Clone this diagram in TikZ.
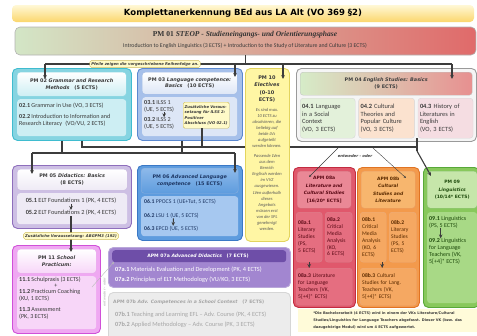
\documentclass[tikz,border=0pt]{standalone}
\usepackage{fontspec}
\setmainfont{Carlito}
\newfontfamily\headfont{DejaVu Sans}
\newfontfamily\steopfont{Liberation Serif}
\usetikzlibrary{positioning,arrows.meta}

% colours of the modules
\definecolor{linegray}{HTML}{3C3C3C}
\definecolor{txtgray}{HTML}{3A3A3A}
\definecolor{notefill}{HTML}{FFFAC8}
\definecolor{noteline}{HTML}{CDBB55}
\definecolor{titlelight}{HTML}{FFF8D6}
\definecolor{titleyel}{HTML}{FBD66C}
\definecolor{steopgreen}{HTML}{D3E6C6}
\definecolor{steopmid}{HTML}{EAD9C6}
\definecolor{steopred}{HTML}{E06A6A}
\definecolor{cyanline}{HTML}{3FBCCF}
\definecolor{cyanfill}{HTML}{86D4E1}
\definecolor{cyanlight}{HTML}{CDEEF3}
\definecolor{blueline}{HTML}{5A88D0}
\definecolor{bluefill}{HTML}{A6C0EA}
\definecolor{bluelight}{HTML}{DDE6F6}
\definecolor{yelline}{HTML}{E3D45E}
\definecolor{yelfill}{HTML}{FFF6A4}
\definecolor{grayline}{HTML}{9A9A9A}
\definecolor{basicgreen}{HTML}{E3F1DA}
\definecolor{basicorange}{HTML}{FBE2CF}
\definecolor{basicpink}{HTML}{F5DDE2}
\definecolor{headgreen}{HTML}{D6ECC8}
\definecolor{headred}{HTML}{E79090}
\definecolor{lilaline}{HTML}{8E6EBC}
\definecolor{lilafill}{HTML}{CDBFE4}
\definecolor{lilalight}{HTML}{EEEAF5}
\definecolor{advline}{HTML}{3A78C6}
\definecolor{advfill}{HTML}{5E9CDE}
\definecolor{advtop}{HTML}{8DB9EA}
\definecolor{advlight}{HTML}{A6C8F0}
\definecolor{advtxt}{HTML}{1E3764}
\definecolor{litline}{HTML}{C22C40}
\definecolor{litfill}{HTML}{E0586C}
\definecolor{litlight}{HTML}{EA8896}
\definecolor{litcell}{HTML}{E56E80}
\definecolor{littxt}{HTML}{5C0A16}
\definecolor{culline}{HTML}{E07424}
\definecolor{culfill}{HTML}{F39A4C}
\definecolor{cullight}{HTML}{F7B66E}
\definecolor{culcell}{HTML}{F5A862}
\definecolor{cultxt}{HTML}{5A2A00}
\definecolor{lingline}{HTML}{58A838}
\definecolor{lingfill}{HTML}{88C85C}
\definecolor{linglight}{HTML}{C6E6AA}
\definecolor{lingcell}{HTML}{A8D986}
\definecolor{lingtxt}{HTML}{1E4A0C}
\definecolor{pracline}{HTML}{D050D8}
\definecolor{pracfill}{HTML}{EFA8F2}
\definecolor{praclight}{HTML}{F7D6F8}
\definecolor{didline}{HTML}{8A6CC0}
\definecolor{didfill}{HTML}{A286D0}
\definecolor{diddark}{HTML}{6E4EA8}
\definecolor{schoolline}{HTML}{D6D6D6}
\definecolor{schoolfill}{HTML}{ECECEC}
\definecolor{schooltxt}{HTML}{A6A6A6}

\newcommand{\titlesize}{\fontsize{8.5}{10}\selectfont}
\newcommand{\headsize}{\fontsize{4.9}{6.6}\selectfont}
\newcommand{\bodysize}{\fontsize{6.1}{7}\selectfont}
\newcommand{\cellsize}{\fontsize{5.6}{6.9}\selectfont}
\newcommand{\notesize}{\fontsize{3.8}{5.4}\selectfont}

\begin{document}
\begin{tikzpicture}[x=1pt,y=-1pt,>={Stealth[length=4pt,width=3.6pt]},
    font=\bodysize,text=txtgray,
    frame/.style={draw=#1,line width=0.9pt,rounded corners=5pt,anchor=north west,inner sep=0pt},
    panel/.style={rounded corners=3pt,anchor=north west,inner sep=0pt},
    cell/.style={panel,align=left,inner xsep=2pt,font=\cellsize},
    head/.style={font=\headfont\bfseries\headsize,align=center,inner sep=0pt},
    txt/.style={anchor=north west,align=left,inner sep=0pt},
    hint/.style={draw=noteline,fill=notefill,rounded corners=1.5pt,inner sep=1.5pt,
      font=\headfont\bfseries\itshape\notesize,text=txtgray},
    wire/.style={draw=linegray,line width=1.1pt},
    fork/.style={draw=linegray,line width=0.4pt,-{Stealth[length=2.6pt,width=2.2pt]}}]
\useasboundingbox (0,0) rectangle (477,335);

% Define title and STEOP
\node[rounded corners=4pt,top color=titlelight,bottom color=titleyel,minimum width=462pt,
  minimum height=17pt,inner sep=0pt,text=black] (title) at (243,13.5)
  {\headfont\bfseries\titlesize Komplettanerkennung BEd aus LA Alt (VO 369 §2)};
\node[rounded corners=5pt,draw=gray!60,line width=0.6pt,left color=steopgreen,middle color=steopmid,
  right color=steopred,minimum width=461pt,minimum height=28pt] (pm01) at (245.5,41) {};
\node[inner sep=0pt,font=\steopfont\bfseries\fontsize{7.5}{9}\selectfont,text=black!80] (pm01title)
  at (245,34.5) {PM 01 \textit{STEOP - Studieneingangs- und Orientierungsphase}};
\node[inner sep=0pt,font=\fontsize{5.8}{7}\selectfont] (pm01sub) at (245,45.5)
  {Introduction to English Linguistics (3 ECTS) + Introduction to the Study of Literature and Culture (3 ECTS)};

% Define first row
\node[frame=cyanline,fill=cyanfill,minimum width=119pt,minimum height=72pt] (pm02) at (12,68) {};
\node[panel,top color=white,bottom color=cyanlight,draw=cyanline!60,minimum width=109pt,minimum height=24pt] (pm02head) at (17,72) {};
\node[panel,fill=cyanlight,minimum width=109pt,minimum height=37pt] (pm02body) at (17,99) {};
\node[head] (pm02label) at (pm02head) {PM 02 \textit{Grammar and Research}\\\textit{Methods}\quad(5 ECTS)};
\node[txt] (pm021) at (19,103) {\textbf{02.1} Grammar in Use (VO, 3 ECTS)};
\node[txt] (pm022) at (19,114) {\textbf{02.2} Introduction to Information and\\Research Literacy\enspace(VO/VU, 2 ECTS)};

\node[frame=blueline,fill=bluefill,minimum width=105pt,minimum height=72pt] (pm03) at (137,68) {};
\node[panel,top color=white,bottom color=bluelight,draw=blueline!60,minimum width=95pt,minimum height=22pt] (pm03head) at (142,72) {};
\node[panel,fill=bluelight,minimum width=95pt,minimum height=39pt] (pm03body) at (142,97) {};
\node[head] (pm03label) at (pm03head) {PM 03 \textit{Language competence:}\\\textit{Basics}\quad(10 ECTS)};
\node[txt] (pm031) at (144,100) {\textbf{03.1} ILSS 1\\(UE, 5 ECTS)};
\node[txt,below=5pt of pm031.south west,anchor=north west] (pm032) {\textbf{03.2} ILSS 2\\(UE, 5 ECTS)};
\node[hint,anchor=north west,align=left,minimum height=26pt] (hint3) at (183,102)
  {Zusätzliche Voraus-\\setzung für ILSS 2:\\Positiver\\Abschluss (VO 02.1)};
\draw[wire,line width=0.9pt,->] ([xshift=5pt]pm031.south) -- ([xshift=5pt]pm032.north);

\node[frame=yelline,fill=yelfill,minimum width=44pt,minimum height=173pt] (pm10) at (245,68) {};
\node[head,font=\headfont\bfseries\fontsize{5}{7.5}\selectfont] (pm10label) at (267,89)
  {PM 10\\\textit{Electives}\\(0-10\\ECTS)};
\node[anchor=north,align=center,inner sep=0pt,font=\itshape\fontsize{4.5}{6.1}\selectfont,text=black!65] (pm10rule) at (267,108)
  {Es sind max.\\10 ECTS zu\\absolvieren, die\\beliebig auf\\beide LVs\\aufgeteilt\\werden können.};
\node[below=6pt of pm10rule,align=center,inner sep=0pt,font=\itshape\fontsize{4.5}{6.1}\selectfont,text=black!65] (pm10list)
  {Passende LVen\\aus dem\\Bereich\\Englisch werden\\im VVZ\\ausgewiesen.\\LVen außerhalb\\dieses\\Angebots\\müssen erst\\von der SPL\\genehmigt\\werden.};

\node[frame=grayline,fill=gray!8,minimum width=180pt,minimum height=73pt] (pm04) at (296,68) {};
\node[panel,left color=headgreen,middle color=basicorange,right color=headred,draw=grayline!60,
  minimum width=172pt,minimum height=23pt] (pm04head) at (300,72) {};
\node[head,text=black!75] (pm04label) at (pm04head) {PM 04 \textit{English Studies: Basics}\\(9 ECTS)};
\node[cell,fill=basicgreen,draw=grayline!40,text width=51pt,minimum height=40pt,font=\fontsize{6.4}{7.6}\selectfont] (pm041) at (300,98)
  {\textbf{04.1} Language\\in a Social\\Context\\(VO, 3 ECTS)};
\node[cell,fill=basicorange,draw=grayline!40,text width=52pt,minimum height=40pt,font=\fontsize{6.4}{7.6}\selectfont,
  right=3pt of pm041.north east,anchor=north west] (pm042)
  {\textbf{04.2} Cultural\\Theories and\\Popular Culture\\(VO, 3 ECTS)};
\node[cell,fill=basicpink,draw=grayline!40,text width=51pt,minimum height=40pt,font=\fontsize{6.4}{7.6}\selectfont,
  right=3pt of pm042.north east,anchor=north west] (pm043)
  {\textbf{04.3} History of\\Literatures in\\English\\(VO, 3 ECTS)};

% Draw arrows from STEOP
\coordinate (busL) at (45,64);
\coordinate (busR) at (452,64);
\coordinate (in02) at (45,79);
\coordinate (in03) at (235,77);
\coordinate (in10) at (283,79);
\coordinate (in04) at (452,79);
\draw[wire] (pm01.south) -- (pm01.south |- busL);
\draw[wire] (busL) -- (busR);
\draw[wire,->] (busL) -- (in02);
\draw[wire,->] (busL -| in03) -- (in03);
\draw[wire,->] (busL -| in10) -- (in10);
\draw[wire,->] (busR) -- (in04);
\node[hint] (hint1) at (145,64) {Pfeile zeigen die vorgeschriebene Reihenfolge an.};

% Define second row
\node[frame=lilaline,fill=lilafill,minimum width=119pt,minimum height=63pt] (pm05) at (12,165) {};
\node[panel,top color=white,bottom color=lilalight,draw=lilaline!50,minimum width=110pt,minimum height=21pt] (pm05head) at (17,169) {};
\node[panel,fill=lilalight,minimum width=110pt,minimum height=31pt] (pm05body) at (17,193) {};
\node[head] (pm05label) at (pm05head) {PM 05 \textit{Didactics: Basics}\\(8 ECTS)};
\node[inner sep=0pt,font=\fontsize{6.3}{7}\selectfont] (pm051) at (71,201) {\textbf{05.1} ELT Foundations 1 (PK, 4 ECTS)};
\node[inner sep=0pt,font=\fontsize{6.3}{7}\selectfont,below=6pt of pm051] (pm052) {\textbf{05.2} ELT Foundations 2 (PK, 4 ECTS)};
\draw[wire,line width=0.9pt,->] (pm051) -- (pm052);

\node[frame=advline,fill=advfill,minimum width=105pt,minimum height=75pt] (pm06) at (137,165) {};
\node[panel,top color=advtop,bottom color=advfill,draw=advline!60,minimum width=97pt,minimum height=25pt] (pm06head) at (141,168) {};
\node[panel,fill=advlight,minimum width=97pt,minimum height=40pt] (pm06body) at (141,196) {};
\node[head,text=advtxt] (pm06label) at (pm06head) {PM 06 \textit{Advanced Language}\\\textit{competence}\quad(15 ECTS)};
\node[txt,text=advtxt,font=\fontsize{5.8}{7}\selectfont] (pm061) at (144,199) {\textbf{06.1} PPOCS 1 (UE+Tut, 5 ECTS)};
\node[txt,text=advtxt,font=\fontsize{5.8}{7}\selectfont,below=8.5pt of pm061.south west,anchor=north west] (pm062) {\textbf{06.2} LSU 1 (UE, 5 ECTS)};
\node[txt,text=advtxt,font=\fontsize{5.8}{7}\selectfont,below=7.5pt of pm062.south west,anchor=north west] (pm063) {\textbf{06.3} EPCD (UE, 5 ECTS)};
\draw[wire,line width=0.9pt,->] ([xshift=2pt]pm062.south) -- ([xshift=2pt]pm063.north);

\node[frame=litline,fill=litfill,minimum width=62pt,minimum height=140pt] (apm08a) at (293,167) {};
\node[panel,fill=litlight,draw=litline!70,minimum width=54pt,minimum height=37pt] (apm08ahead) at (297,171) {};
\node[head,text=littxt,font=\headfont\bfseries\fontsize{4.5}{7.4}\selectfont] (apm08alabel) at (apm08ahead)
  {APM 08a\\\textit{Literature and}\\\textit{Cultural Studies}\\{}[16/20* ECTS]};
\node[cell,fill=litcell,draw=litline!60,text=littxt,text width=22pt,minimum height=50pt] (s08a1) at (296,212)
  {\textbf{08a.1}\\Literary\\Studies\\(PS,\\5 ECTS)};
\node[cell,fill=litcell,draw=litline!60,text=littxt,text width=23pt,minimum height=50pt] (s08a2) at (325,212)
  {\textbf{08a.2}\\Critical\\Media\\Analysis\\(KO,\\6 ECTS)};
\node[cell,fill=litcell,draw=litline!60,text=littxt,text width=52pt,minimum height=37pt] (s08a3) at (296,268)
  {\textbf{08a.3} Literature\\for Language\\Teachers (VK,\\5[+4]* ECTS)};
\draw[wire,line width=0.9pt,->] (s08a1.south) -- (s08a1.south |- s08a3.north);

\node[frame=culline,fill=culfill,minimum width=62pt,minimum height=140pt] (apm08b) at (357,167) {};
\node[panel,fill=cullight,draw=culline!70,minimum width=54pt,minimum height=37pt] (apm08bhead) at (361,171) {};
\node[head,text=cultxt,font=\headfont\bfseries\fontsize{4.5}{7.4}\selectfont] (apm08blabel) at (apm08bhead)
  {APM 08b\\\textit{Cultural}\\\textit{Studies and}\\\textit{Literature}};
\node[cell,fill=culcell,draw=culline!60,text=cultxt,text width=22pt,minimum height=50pt] (s08b1) at (360,212)
  {\textbf{08b.1}\\Critical\\Media\\Analysis\\(KO, 6\\ECTS)};
\node[cell,fill=culcell,draw=culline!60,text=cultxt,text width=23pt,minimum height=50pt] (s08b2) at (389,212)
  {\textbf{08b.2}\\Literary\\Studies\\(PS, 5\\ECTS)};
\node[cell,fill=culcell,draw=culline!60,text=cultxt,text width=52pt,minimum height=37pt] (s08b3) at (360,268)
  {\textbf{08b.3} Cultural\\Studies for Lang.\\Teachers (VK,\\5[+4]* ECTS)};
\draw[wire,line width=0.9pt,->] ([xshift=9pt]s08b1.south) -- ([xshift=9pt]s08b1.south |- s08b3.north);

\node[frame=lingline,fill=lingfill,minimum width=56pt,minimum height=140pt] (pm09) at (423,167) {};
\node[panel,fill=linglight,draw=lingline!70,minimum width=50pt,minimum height=37pt] (pm09head) at (427,171) {};
\node[head,text=lingtxt,font=\headfont\bfseries\fontsize{4.5}{7.4}\selectfont] (pm09label) at (pm09head)
  {PM 09\\\textit{Linguistics}\\(10/14* ECTS)};
\node[panel,fill=lingcell,minimum width=50pt,minimum height=91pt] (pm09body) at (427,212) {};
\node[txt,text=lingtxt,font=\fontsize{6}{7}\selectfont] (s091) at (429,216) {\textbf{09.1} Linguistics\\(PS, 5 ECTS)};
\node[txt,text=lingtxt,font=\fontsize{6}{7}\selectfont,below=10pt of s091.south west,anchor=north west] (s092)
  {\textbf{09.2} Linguistics\\for Language\\Teachers (VK,\\5[+4]* ECTS)};
\draw[wire,line width=0.9pt,->] ([xshift=-7pt]s091.south) -- ([xshift=-7pt]s091.south |- s092.north);

\node[anchor=north west,fill=notefill!70,minimum width=179pt,minimum height=23pt,inner sep=2pt,align=left,
  font=\headfont\bfseries\fontsize{3.55}{7}\selectfont] (footnote) at (298,309)
  {*Die Bachelorarbeit (4 ECTS) wird in einem der VKs Literature/Cultural\\Studies/Linguistics for Language Teachers abgefasst. Dieser VK (bzw. das\\dazugehörige Modul) wird um 4 ECTS aufgewertet.};

% Define third row
\node[frame=pracline,fill=pracfill,minimum width=88pt,minimum height=88pt] (pm11) at (12,245) {};
\node[panel,top color=white,bottom color=praclight,draw=pracline!50,minimum width=79pt,minimum height=24pt] (pm11head) at (17,249) {};
\node[panel,fill=praclight,minimum width=79pt,minimum height=53pt] (pm11body) at (17,276) {};
\node[head] (pm11label) at (pm11head) {PM 11 \textit{School}\\\textit{Practicum:}};
\node[txt] (s111) at (19,277) {\textbf{11.1} Schulpraxis (3 ECTS)};
\node[inner sep=0pt] (plus11) at (56,285.5) {+};
\node[txt] (s112) at (19,289) {\textbf{11.2} Practicum Coaching\\(KU, 1 ECTS)};
\node[txt] (s113) at (19,307) {\textbf{11.3} Assessment\\(PK, 3 ECTS)};

\node[frame=didline!60,fill=didfill,minimum width=182pt,minimum height=40pt] (apm07a) at (108,247) {};
\node[panel,fill=diddark,minimum width=174pt,minimum height=12pt] (apm07ahead) at (112,250) {};
\node[inner sep=0pt,text=white,font=\headfont\bfseries\fontsize{4.6}{6}\selectfont] (apm07alabel) at (198,256)
  {APM 07a \textit{Advanced Didactics}\quad(7 ECTS)};
\node[txt,text=white,font=\fontsize{6.3}{7}\selectfont] (s07a1) at (115,267) {\textbf{07a.1} Materials Evaluation and Development (PK, 4 ECTS)};
\node[txt,text=white,font=\fontsize{6.3}{7}\selectfont] (s07a2) at (115,277) {\textbf{07a.2} Principles of ELT Methodology (VU/KO, 3 ECTS)};

\node[frame=schoolline,fill=schoolfill,minimum width=182pt,minimum height=50pt] (apm07b) at (108,292) {};
\node[inner sep=0pt,anchor=base west,text=schooltxt,font=\headfont\bfseries\fontsize{4.6}{6}\selectfont] (apm07blabel) at (113,303)
  {APM 07b \textit{Adv. Competences in a School Context}\quad(7 ECTS)};
\node[txt,text=schooltxt,font=\fontsize{6.3}{7}\selectfont] (s07b1) at (115,312) {\textbf{07b.1} Teaching and Learning EFL – Adv. Course (PK, 4 ECTS)};
\node[txt,text=schooltxt,font=\fontsize{6.3}{7}\selectfont] (s07b2) at (115,322) {\textbf{07b.2} Applied Methodology – Adv. Course (PK, 3 ECTS)};

% Draw links between the rows
\coordinate (laneA) at (82,147);
\coordinate (laneAend) at (417,147);
\coordinate (laneB) at (32,153);
\coordinate (laneBend) at (235,153);
\coordinate (drop02) at (62,153);
\coordinate (drop03) at (182,153);
\coordinate (dropnote) at (202,147);
\coordinate (in05) at (32,174);
\coordinate (in06) at (235,173);
\coordinate (kink09) at (417,151);
\coordinate (in09) at (431,176);
\draw[wire] (pm02.south -| laneA) -- (laneA) -- (laneA -| pm10.west);
\draw[wire] (pm10.east |- laneA) -- (laneAend);
\draw[wire] (pm02.south -| drop02) -- (drop02);
\draw[wire] (pm03.south -| drop03) -- (drop03);
\draw[wire] (hint3.south -| dropnote) -- (dropnote);
\draw[wire] (laneB) -- (laneBend);
\draw[wire,->] (laneB) -- (in05);
\draw[wire,->] (laneBend) -- (in06);
\draw[wire] (pm042.south -| laneAend) -- (kink09);
\draw[wire,->] (kink09) -- (in09);

\coordinate (fork08a) at (338,148);
\coordinate (fork08b) at (373,148);
\coordinate (in08a) at (309,177);
\coordinate (in08b) at (406,178);
\draw[fork] (fork08a) -- (in08a);
\draw[fork] (fork08b) -- (in08b);
\node[fill=white,inner sep=1pt,font=\headfont\bfseries\itshape\notesize] (or08) at (355,156) {entweder - oder};

\coordinate (in11) at (71,252);
\draw[wire,->] (pm052.south) -- (pm052.south |- in11);
\node[hint] (hint5) at (71,236) {Zusätzliche Voraussetzung: ABGPM3 (192)};

\coordinate (fork07) at (92,287);
\coordinate (in07a) at (114,262);
\draw[fork,draw=gray!55] (fork07) -- (in07a);
\node[rotate=90,inner sep=0pt,text=gray!45,font=\headfont\bfseries\itshape\fontsize{3.2}{4}\selectfont] (or07) at (104.5,292) {entweder - oder};

\end{tikzpicture}
\end{document}
